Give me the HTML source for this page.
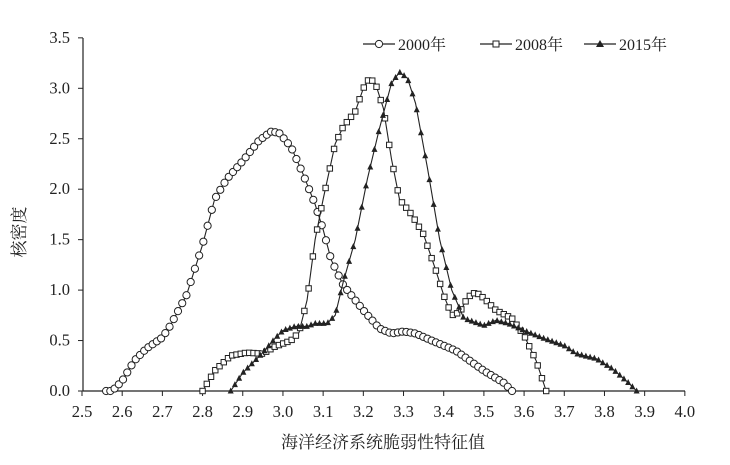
<!DOCTYPE html>
<html><head><meta charset="utf-8"><style>
body{margin:0;background:#fff}
svg{display:block;font-family:"Liberation Serif","Noto Serif CJK SC",serif}
</style></head><body>
<svg id="s" width="730" height="465" viewBox="0 0 730 465">
<g stroke="#222" stroke-width="1.2" fill="none">
<line x1="83" y1="38" x2="83" y2="391"/>
<line x1="83" y1="391" x2="685" y2="391"/>
</g>
<g id="ax" font-size="16.5" fill="#222" font-family="Liberation Serif,serif"></g>
<text x="25" y="232" font-size="17" fill="#222" transform="rotate(-90 25 232)" text-anchor="middle">核密度</text>
<text x="383" y="448" font-size="17" fill="#222" text-anchor="middle">海洋经济系统脆弱性特征值</text>
<g id="plot"></g>
<g font-size="16" fill="#222">
<line x1="363" y1="44" x2="395" y2="44" stroke="#222" stroke-width="1.2"/>
<circle cx="379" cy="44" r="3.6" fill="#fff" stroke="#222" stroke-width="1"/>
<text x="398" y="50">2000年</text>
<line x1="480" y1="44" x2="512" y2="44" stroke="#222" stroke-width="1.2"/>
<rect x="493" y="41" width="6" height="6" fill="#fff" stroke="#222" stroke-width="1"/>
<text x="515" y="50">2008年</text>
<line x1="584" y1="44" x2="616" y2="44" stroke="#222" stroke-width="1.2"/>
<polygon points="600,40 604,47 596,47" fill="#222"/>
<text x="619" y="50">2015年</text>
</g>
</svg>
<script>
const X=v=>82+(v-2.5)*401.9, Y=v=>391-v*100.9;
const ns="http://www.w3.org/2000/svg";
const ax=document.getElementById('ax'),pl=document.getElementById('plot');
function el(t,a,p){const e=document.createElementNS(ns,t);for(const k in a)e.setAttribute(k,a[k]);p.appendChild(e);return e;}
for(let i=0;i<=15;i++){const v=2.5+i*0.1,x=X(v);el('line',{x1:x,y1:391,x2:x,y2:396,stroke:'#222'},ax);const t=el('text',{x:x,y:417,'text-anchor':'middle'},ax);t.textContent=v.toFixed(1);}
for(let i=0;i<=7;i++){const v=i*0.5,y=Y(v);el('line',{x1:78,y1:y,x2:83,y2:y,stroke:'#222'},ax);const t=el('text',{x:70,y:y+5,'text-anchor':'end'},ax);t.textContent=v.toFixed(1);}
const D={
c:[[2.56,0],[2.575,0],[2.6,0.1],[2.63,0.3],[2.66,0.42],[2.7,0.53],[2.72,0.65],[2.76,0.95],[2.8,1.45],[2.83,1.9],[2.86,2.1],[2.9,2.28],[2.94,2.48],[2.97,2.57],[2.99,2.56],[3.02,2.42],[3.05,2.15],[3.08,1.85],[3.1,1.6],[3.12,1.3],[3.15,1.05],[3.2,0.8],[3.24,0.62],[3.27,0.57],[3.3,0.59],[3.33,0.57],[3.37,0.5],[3.43,0.4],[3.5,0.2],[3.55,0.08],[3.57,0]],
s:[[2.8,0],[2.83,0.2],[2.87,0.35],[2.91,0.38],[2.95,0.37],[2.98,0.44],[3.02,0.5],[3.04,0.58],[3.06,0.9],[3.08,1.5],[3.1,1.9],[3.13,2.45],[3.15,2.62],[3.18,2.77],[3.2,3.0],[3.215,3.1],[3.23,3.05],[3.25,2.8],[3.27,2.3],[3.29,1.9],[3.32,1.75],[3.35,1.55],[3.38,1.2],[3.4,0.95],[3.42,0.75],[3.44,0.78],[3.46,0.93],[3.48,0.98],[3.5,0.92],[3.53,0.8],[3.57,0.72],[3.6,0.55],[3.63,0.3],[3.655,0]],
t:[[2.87,0],[2.9,0.18],[2.95,0.38],[2.98,0.52],[3.0,0.6],[3.03,0.64],[3.06,0.64],[3.08,0.67],[3.11,0.67],[3.13,0.75],[3.15,1.08],[3.18,1.5],[3.21,2.1],[3.24,2.6],[3.27,3.05],[3.29,3.16],[3.31,3.1],[3.33,2.85],[3.36,2.2],[3.39,1.5],[3.42,1.0],[3.45,0.72],[3.5,0.65],[3.53,0.7],[3.56,0.67],[3.6,0.6],[3.65,0.52],[3.7,0.45],[3.73,0.37],[3.78,0.32],[3.82,0.22],[3.86,0.08],[3.88,0]]};
for(const k in D){const p=D[k];
el('polyline',{points:p.map(q=>X(q[0])+','+Y(q[1])).join(' '),fill:'none',stroke:'#222','stroke-width':1.1},pl);
const a=p[0][0],b=p[p.length-1][0],n=Math.round((b-a)/0.0105);
for(let i=0;i<=n;i++){const xv=a+(b-a)*i/n;let j=0;while(j<p.length-2&&p[j+1][0]<xv)j++;
const f=(xv-p[j][0])/(p[j+1][0]-p[j][0]),yv=p[j][1]+f*(p[j+1][1]-p[j][1]);const x=X(xv),y=Y(yv);
if(k=='c')el('circle',{cx:x,cy:y,r:3.6,fill:'#fff',stroke:'#222','stroke-width':1},pl);
else if(k=='s')el('rect',{x:x-2.7,y:y-2.7,width:5.4,height:5.4,fill:'#fff',stroke:'#222','stroke-width':1},pl);
else el('polygon',{points:`${x},${y-3.5} ${x+3},${y+2.5} ${x-3},${y+2.5}`,fill:'#222'},pl);}}
</script>
</body></html>
